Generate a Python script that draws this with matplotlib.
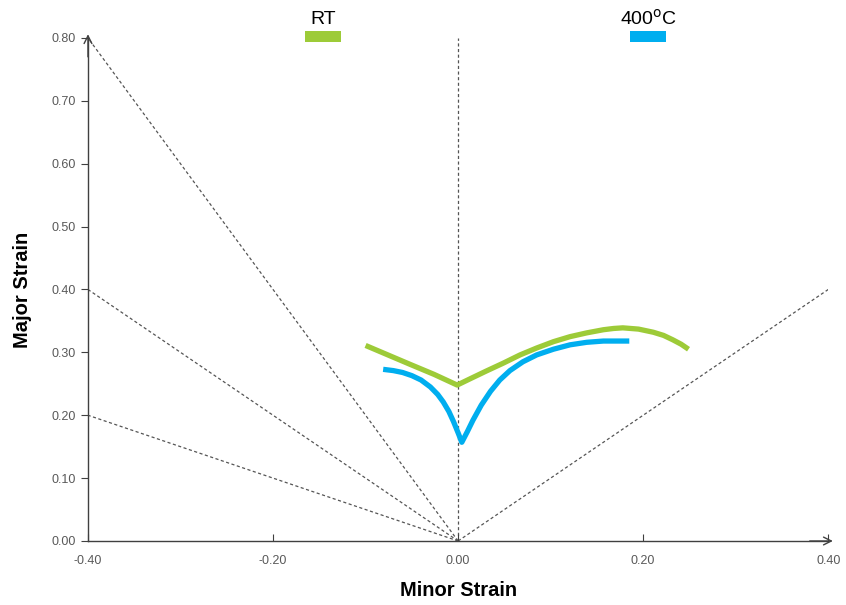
import matplotlib
matplotlib.use("Agg")
import matplotlib.pyplot as plt
from matplotlib.patches import Rectangle
from matplotlib import font_manager

# Forming limit curves (minor strain, major strain)
rt_minor = [-0.100, -0.076, -0.052, -0.026, -0.001, 0.013, 0.030, 0.049, 0.067, 0.085,
            0.103, 0.121, 0.139, 0.157, 0.168, 0.178, 0.195, 0.211, 0.222, 0.232, 0.241, 0.249]
rt_major = [0.311, 0.296, 0.281, 0.265, 0.248, 0.258, 0.270, 0.283, 0.296, 0.307,
            0.317, 0.325, 0.331, 0.336, 0.338, 0.339, 0.337, 0.332, 0.327, 0.320, 0.313, 0.305]

ht_minor = [-0.081, -0.070, -0.060, -0.050, -0.040, -0.030, -0.022, -0.016, -0.010, -0.005,
            0.000, 0.004, 0.010, 0.016, 0.025, 0.035, 0.045, 0.056, 0.070, 0.085, 0.103,
            0.121, 0.139, 0.157, 0.171, 0.185]
ht_major = [0.273, 0.271, 0.268, 0.263, 0.256, 0.245, 0.233, 0.221, 0.206, 0.190,
            0.172, 0.157, 0.174, 0.192, 0.216, 0.238, 0.256, 0.271, 0.285, 0.296, 0.305,
            0.312, 0.316, 0.318, 0.318, 0.318]

# Reference strain paths from the origin
path_ends = [(-0.4, 0.8), (-0.4, 0.4), (-0.4, 0.2), (0.0, 0.8), (0.4, 0.4)]

x_ticks = [-0.4, -0.2, 0.0, 0.2, 0.4]
y_ticks = [0.0, 0.1, 0.2, 0.3, 0.4, 0.5, 0.6, 0.7, 0.8]

series_labels = ["RT", "400$^{\\mathrm{o}}$C"]
series_colors = ["#9dcb38", "#00aeef"]

available = {f.name for f in font_manager.fontManager.ttflist}
narrow = "Liberation Sans Narrow" if "Liberation Sans Narrow" in available else None
label_font = [narrow, "Liberation Sans", "DejaVu Sans"] if narrow else ["Liberation Sans", "DejaVu Sans"]
label_size = 16 if narrow else 14.5

fig = plt.figure(figsize=(8.46, 6.05), dpi=100)
ax = fig.add_axes([0.104, 0.1058, 0.875, 0.8314])

for ex, ey in path_ends:
    ax.plot([0, ex], [0, ey], color="#555555", lw=0.9, ls=(0, (2.5, 2)), zorder=1)

ax.plot(rt_minor, rt_major, color=series_colors[0], lw=3.8,
        solid_joinstyle="round", solid_capstyle="butt", zorder=3)
ax.plot(ht_minor, ht_major, color=series_colors[1], lw=3.8,
        solid_joinstyle="round", solid_capstyle="butt", zorder=3)

ax.set_xlim(-0.4, 0.4)
ax.set_ylim(0.0, 0.8)
ax.set_xticks(x_ticks)
ax.set_yticks(y_ticks)
ax.set_xticklabels([f"{v:.2f}" for v in x_ticks], family=["Liberation Sans", "DejaVu Sans"])
ax.set_yticklabels([f"{v:.2f}" for v in y_ticks], family=["Liberation Sans", "DejaVu Sans"])
ax.tick_params(axis="x", direction="in", length=5, color="#404040",
               labelsize=9, labelcolor="#595959", pad=10)
ax.tick_params(axis="y", direction="out", length=5, color="#404040",
               labelsize=9, labelcolor="#595959", pad=4)

for s in ["top", "right"]:
    ax.spines[s].set_visible(False)
for s in ["left", "bottom"]:
    ax.spines[s].set_color("#404040")
    ax.spines[s].set_linewidth(1.0)

# Arrow heads on the axes
ax.annotate("", xy=(0.405, 0.0), xytext=(0.38, 0.0),
            arrowprops=dict(arrowstyle="->", color="#404040", lw=1.0,
                            mutation_scale=14, shrinkA=0, shrinkB=0),
            annotation_clip=False)
ax.annotate("", xy=(-0.4, 0.806), xytext=(-0.4, 0.77),
            arrowprops=dict(arrowstyle="->", color="#404040", lw=1.0,
                            mutation_scale=14, shrinkA=0, shrinkB=0),
            annotation_clip=False)

ax.set_xlabel("Minor Strain", fontsize=label_size, fontweight="bold", family=label_font, labelpad=10)
ax.set_ylabel("Major Strain", fontsize=label_size, fontweight="bold", family=label_font, labelpad=14)

# Legend: label above a colored bar
legend_x = [0.3605, 0.745]
for lx, lab, col in zip(legend_x, series_labels, series_colors):
    fig.text(lx + 0.021, 0.953, lab, ha="center", va="bottom", fontsize=14,
             family=["Liberation Sans", "DejaVu Sans"], color="black")
    fig.patches.append(Rectangle((lx, 0.9306), 0.0425, 0.0182, transform=fig.transFigure,
                                 facecolor=col, edgecolor="none"))

fig.savefig("out.png", dpi=100)
